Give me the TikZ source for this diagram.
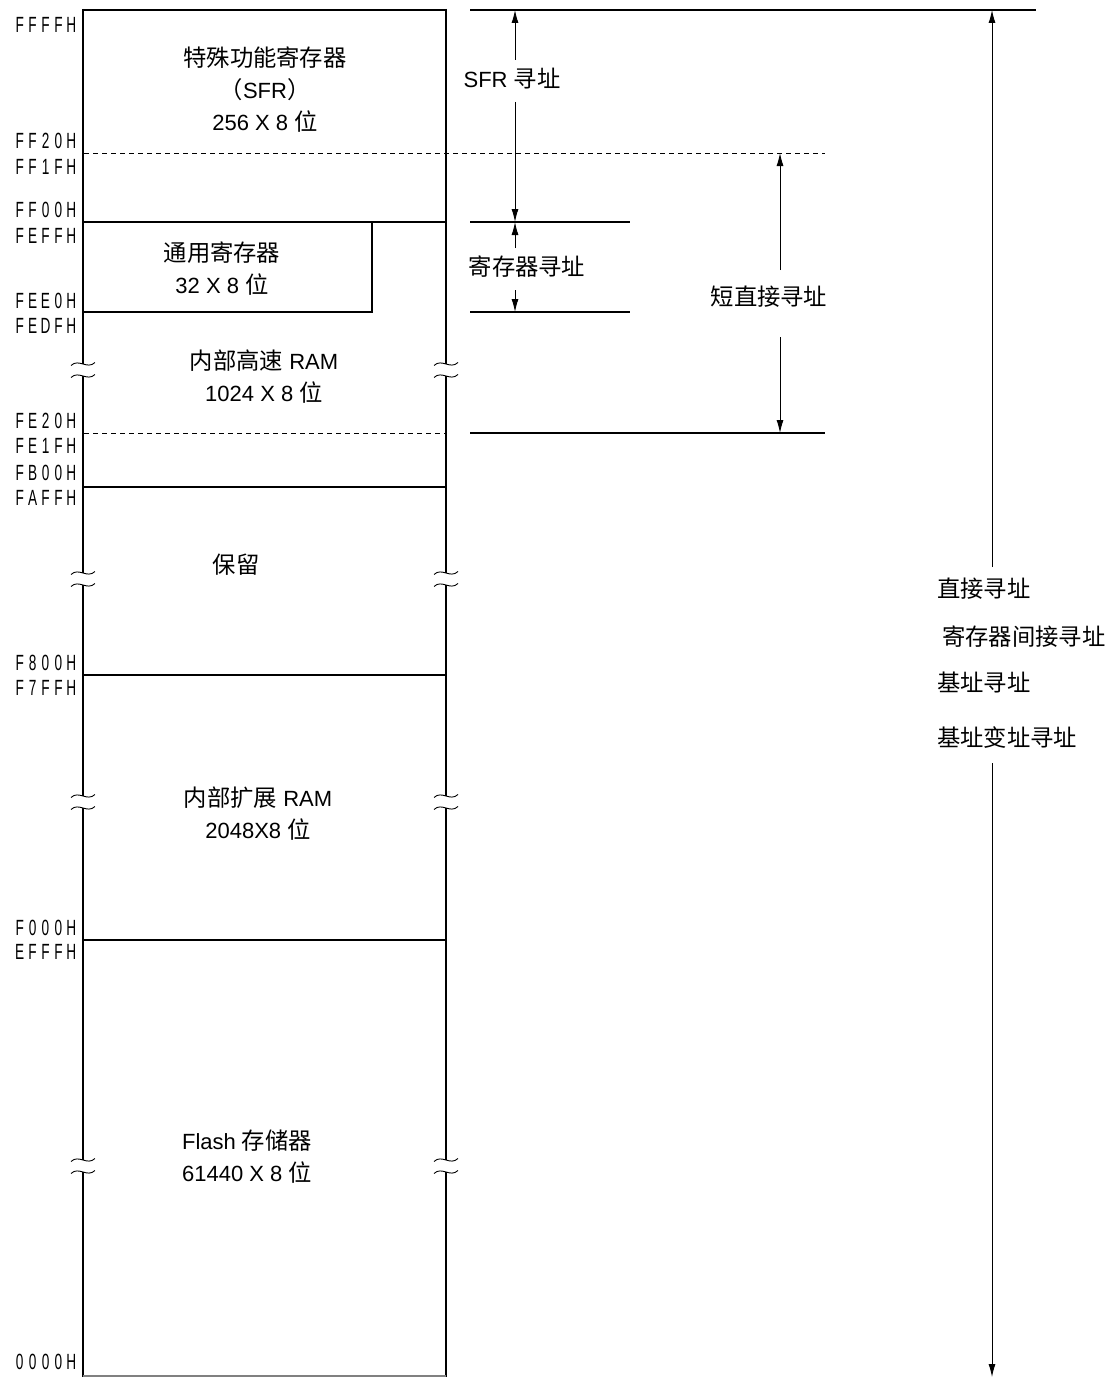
\documentclass[tikz,border=0pt]{standalone}
\usepackage{fontspec}
\setmainfont{Liberation Sans}
\newfontfamily\cjk[Scale=1.06]{Noto Sans CJK SC}
\newfontfamily\addrfont[FakeStretch=0.62]{Liberation Sans}
\usetikzlibrary{arrows.meta}
\newcommand\ad[5]{{\addrfont\fontsize{22}{22}\selectfont\makebox[12.9pt]{#1}\makebox[12.9pt]{#2}\makebox[12.9pt]{#3}\makebox[12.9pt]{#4}\makebox[12.9pt]{#5}}}
\newcommand\tildemark[2]{\draw[tld] (#1-12,#2+1.5) .. controls (#1-4,#2-6) and (#1+4,#2+6) .. (#1+12,#2-1.5);}
\begin{document}
\begin{tikzpicture}[x=1pt,y=-1pt,
  font=\fontsize{22}{32}\selectfont,
  txt/.style={align=center, inner sep=0pt},
  addr/.style={anchor=east, inner sep=0pt},
  rtxt/.style={anchor=west, inner sep=0pt},
  thickln/.style={line width=2.2pt},
  thinln/.style={line width=1.2pt},
  dashln/.style={line width=1pt, dash pattern=on 5pt off 4pt},
  arr/.style={-{Latex[length=13pt,width=7pt]}, line width=0.9pt},
  tld/.style={line width=0.9pt}]
\useasboundingbox (0,0) rectangle (1110,1378);

% ---- main box ----
\draw[thickln] (83,10) -- (446,10);
\foreach \x in {83,446}{
  \draw[thickln] (\x,9) -- (\x,364);
  \draw[thickln] (\x,376) -- (\x,573);
  \draw[thickln] (\x,585) -- (\x,796);
  \draw[thickln] (\x,808) -- (\x,1160);
  \draw[thickln] (\x,1172) -- (\x,1377);
  \tildemark{\x}{364}
  \tildemark{\x}{376}
  \tildemark{\x}{573}
  \tildemark{\x}{585}
  \tildemark{\x}{796}
  \tildemark{\x}{808}
  \tildemark{\x}{1160}
  \tildemark{\x}{1172}
}
\draw[line width=1.5pt, gray] (83,1376) -- (446,1376);

% internal lines
\draw[dashln] (84,153) -- (825,153);
\draw[thinln] (84,222) -- (446,222);
\draw[thinln] (84,312) -- (372,312) -- (372,222);
\draw[dashln] (84,433) -- (446,433);
\draw[thinln] (84,487) -- (446,487);
\draw[thinln] (84,675) -- (446,675);
\draw[thinln] (84,940) -- (446,940);

% right reference lines
\draw[thinln] (470,10) -- (1036,10);
\draw[thinln] (470,222) -- (630,222);
\draw[thinln] (470,312) -- (630,312);
\draw[thinln] (470,433) -- (825,433);

% ---- address labels ----
\node[addr] (a1) at (78,25) {\ad FFFFH};
\node[addr] (a2) at (78,141) {\ad FF20H};
\node[addr] (a3) at (78,167) {\ad FF1FH};
\node[addr] (a4) at (78,210) {\ad FF00H};
\node[addr] (a5) at (78,236) {\ad FEFFH};
\node[addr] (a6) at (78,301) {\ad FEE0H};
\node[addr] (a7) at (78,326) {\ad FEDFH};
\node[addr] (a8) at (78,421) {\ad FE20H};
\node[addr] (a9) at (78,446) {\ad FE1FH};
\node[addr] (a10) at (78,473) {\ad FB00H};
\node[addr] (a11) at (78,498) {\ad FAFFH};
\node[addr] (a12) at (78,663) {\ad F800H};
\node[addr] (a13) at (78,688) {\ad F7FFH};
\node[addr] (a14) at (78,928) {\ad F000H};
\node[addr] (a15) at (78,952) {\ad EFFFH};
\node[addr] (a16) at (78,1362) {\ad 0000H};

% ---- block texts ----
\node[txt] (sfr) at (265,90) {{\cjk 特殊功能寄存器}\\{\cjk （}SFR{\cjk ）}\\256 X 8 {\cjk 位}};
\node[txt] (gpr) at (222,269) {{\cjk 通用寄存器}\\32 X 8 {\cjk 位}};
\node[txt] (hram) at (264,377) {{\cjk 内部高速} RAM\\1024 X 8 {\cjk 位}};
\node[txt] (resv) at (236,565) {{\cjk 保留}};
\node[txt] (xram) at (258,814) {{\cjk 内部扩展} RAM\\2048X8 {\cjk 位}};
\node[txt] (flash) at (247,1157) {Flash {\cjk 存储器}\\61440 X 8 {\cjk 位}};

% ---- addressing annotations ----
\node[txt] (sfrl) at (512,79) {SFR {\cjk 寻址}};
\coordinate (sfrT) at (515,10);
\coordinate (sfrA) at (515,60);
\coordinate (sfrC) at (515,102);
\coordinate (sfrB) at (515,222);
\draw[arr] (sfrA) -- (sfrT);
\draw[arr] (sfrC) -- (sfrB);

\node[txt] (regl) at (527,267) {{\cjk 寄存器寻址}};
\coordinate (regT) at (515,222);
\coordinate (regA) at (515,248);
\coordinate (regC) at (515,290);
\coordinate (regB) at (515,312);
\draw[arr] (regA) -- (regT);
\draw[arr] (regC) -- (regB);

\node[txt] (shl) at (769,297) {{\cjk 短直接寻址}};
\coordinate (shT) at (780,153);
\coordinate (shA) at (780,270);
\coordinate (shC) at (780,337);
\coordinate (shB) at (780,433);
\draw[arr] (shA) -- (shT);
\draw[arr] (shC) -- (shB);

\node[rtxt] (d1) at (937,589) {{\cjk 直接寻址}};
\node[rtxt] (d2) at (942,637) {{\cjk 寄存器间接寻址}};
\node[rtxt] (d3) at (937,682) {{\cjk 基址寻址}};
\node[rtxt] (d4) at (937,738) {{\cjk 基址变址寻址}};
\coordinate (dT) at (992,10);
\coordinate (dA) at (992,567);
\coordinate (dC) at (992,763);
\coordinate (dB) at (992,1377);
\draw[arr] (dA) -- (dT);
\draw[arr] (dC) -- (dB);
\end{tikzpicture}
\end{document}
